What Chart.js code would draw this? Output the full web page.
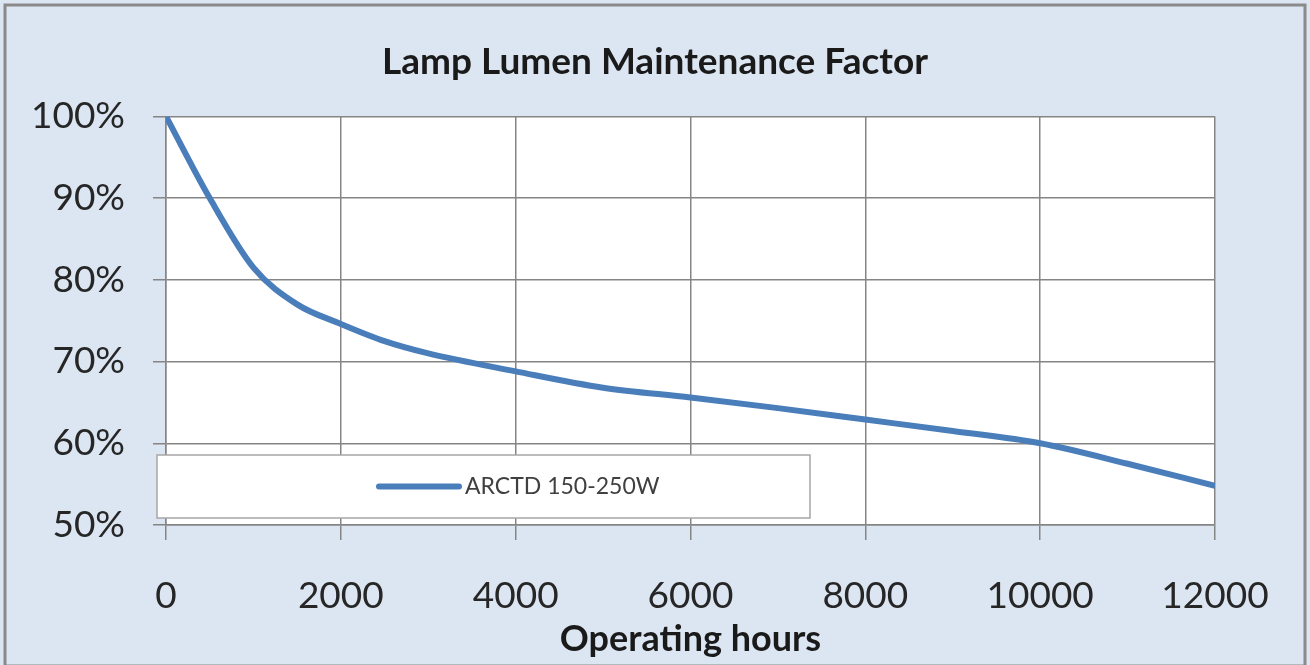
<!DOCTYPE html>
<html>
<head>
<meta charset="utf-8">
<title>Lamp Lumen Maintenance Factor</title>
<script src="https://cdn.jsdelivr.net/npm/chart.js@4.4.1/dist/chart.umd.min.js"></script>
<style>
  html, body { margin: 0; padding: 0; background: #fff; }
  #wrap { width: 1310px; height: 665px; position: relative; }
</style>
</head>
<body>
<div id="wrap"><canvas id="lumenChart"></canvas></div>
<script>
// lumen maintenance (%) against operating hours
const hours = [0, 500, 1000, 1500, 2000, 2500, 3000, 4000, 5000, 6000, 7000, 8000, 9000, 10000, 11000, 12000];
const lumen = [100, 90, 81.5, 77, 74.6, 72.5, 71, 68.8, 66.8, 65.6, 64.3, 62.9, 61.5, 60, 57.5, 54.8];
const xTicks = [0, 2000, 4000, 6000, 8000, 10000, 12000];
const yTicks = [50, 60, 70, 80, 90, 100];
const seriesName = 'ARCTD 150-250W';

const FONT = 'Lato, "Open Sans", sans-serif';
const LINE_BLUE = '#4a7ebb';
const GRID = '#858585';

// light blue frame, white plot area
const backdrop = {
    id: 'backdrop',
    beforeDraw(chart) {
        const { ctx, chartArea: a } = chart;
        ctx.save();
        ctx.fillStyle = '#dce6f2';
        ctx.fillRect(0, 0, chart.width, chart.height);
        ctx.strokeStyle = '#8a8a8a';
        ctx.lineWidth = 3;
        ctx.strokeRect(5, 5, chart.width - 10, chart.height - 4);
        ctx.fillStyle = '#ffffff';
        ctx.fillRect(a.left, a.top, a.right - a.left, a.bottom - a.top);
        ctx.restore();
    }
};

// Excel style legend box sitting inside the bottom of the plot
const legendBox = {
    id: 'legendBox',
    afterDatasetsDraw(chart) {
        const { ctx, chartArea: a } = chart;
        const ds = chart.data.datasets[0];
        const left = a.left - 9, top = a.bottom - 70, w = 653, h = 63;
        ctx.save();
        ctx.fillStyle = '#ffffff';
        ctx.fillRect(left, top, w, h);
        ctx.strokeStyle = '#a6a6a6';
        ctx.lineWidth = 1.5;
        ctx.strokeRect(left, top, w, h);
        const midY = top + h / 2;
        ctx.strokeStyle = ds.borderColor;
        ctx.lineWidth = ds.borderWidth;
        ctx.lineCap = 'round';
        ctx.beginPath();
        ctx.moveTo(left + 222, midY);
        ctx.lineTo(left + 302, midY);
        ctx.stroke();
        ctx.fillStyle = '#404040';
        ctx.font = '23px ' + FONT;
        ctx.textBaseline = 'middle';
        ctx.fillText(ds.label, left + 308, midY);
        ctx.restore();
    }
};

const ctx = document.getElementById('lumenChart').getContext('2d');
new Chart(ctx, {
    type: 'line',
    data: {
        datasets: [{
            label: seriesName,
            data: hours.map((h, i) => ({ x: h, y: lumen[i] })),
            borderColor: LINE_BLUE,
            borderWidth: 6,
            pointRadius: 0,
            cubicInterpolationMode: 'monotone',
            fill: false,
        }]
    },
    options: {
        responsive: true,
        maintainAspectRatio: false,
        animation: false,
        layout: { padding: { left: 0, right: 0, top: 0, bottom: 4 } },
        plugins: {
            legend: { display: false },
            tooltip: { enabled: false },
            title: {
                display: true,
                text: 'Lamp Lumen Maintenance Factor',
                color: '#1a1a1a',
                font: { family: FONT, size: 37, weight: 'bold' },
                padding: { top: 40, bottom: 32 },
            }
        },
        scales: {
            x: {
                type: 'linear',
                min: 0,
                max: 12000,
                afterBuildTicks: s => { s.ticks = xTicks.map(v => ({ value: v })); },
                afterFit: s => { s.height = 136; },
                grid: { color: GRID, lineWidth: 1.5, tickLength: 15, tickColor: GRID },
                border: { color: GRID, width: 1.5 },
                ticks: {
                    color: '#262626',
                    padding: 34,
                    maxRotation: 0,
                    font: { family: FONT, size: 37 },
                    callback: v => String(v),
                },
                title: {
                    display: true,
                    text: 'Operating hours',
                    color: '#1a1a1a',
                    padding: { top: 0, bottom: 0 },
                    font: { family: FONT, size: 36, weight: 'bold' },
                }
            },
            y: {
                min: 50,
                max: 100,
                afterBuildTicks: s => { s.ticks = yTicks.map(v => ({ value: v })); },
                afterFit: s => { s.width = 166; },
                grid: { color: GRID, lineWidth: 1.5, tickLength: 13, tickColor: GRID },
                border: { color: GRID, width: 1.5 },
                ticks: {
                    color: '#262626',
                    padding: 28,
                    font: { family: FONT, size: 37 },
                    callback: v => v + '%',
                }
            },
            // empty right-hand margin so the title centres on the whole frame
            margin: {
                position: 'right',
                min: 0,
                max: 1,
                afterFit: s => { s.width = 95; },
                grid: { display: false },
                border: { display: false },
                ticks: { display: false },
            }
        }
    },
    plugins: [backdrop, legendBox]
});
</script>
</body>
</html>
